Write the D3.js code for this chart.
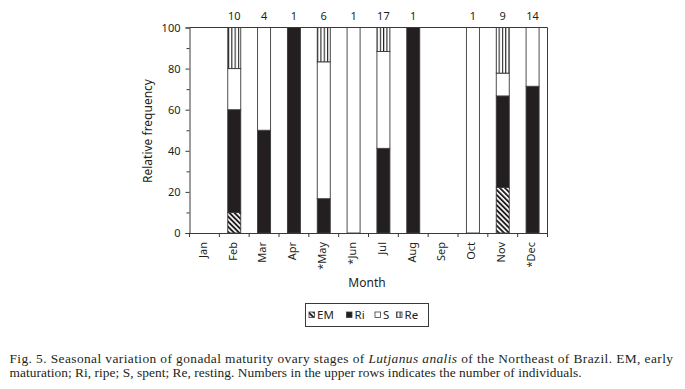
<!DOCTYPE html>
<html>
<head>
<meta charset="utf-8">
<script src="https://cdn.jsdelivr.net/npm/d3@7"></script>
<style>
  body { margin: 0; background: #fff; }
  svg { display: block; }
  text { fill: #231f20; }
  .sans { font-family: "Noto Sans", sans-serif; }
  .caption { font-family: "Liberation Serif", "Times New Roman", serif; font-size: 13.4px; }
</style>
</head>
<body>
<div id="chart"></div>
<script>
const months = ["Jan", "Feb", "Mar", "Apr", "*May", "*Jun", "Jul", "Aug", "Sep", "Oct", "Nov", "*Dec"];
const counts = [null, 10, 4, 1, 6, 1, 17, 1, null, 1, 9, 14];
const emValues = [0, 10, 0, 0, 0, 0, 0, 0, 0, 0, 22.2, 0];
const riValues = [0, 50, 50, 100, 16.7, 0, 41.2, 100, 0, 0, 44.5, 71.4];
const sValues = [0, 20, 50, 0, 66.6, 100, 47.1, 0, 0, 100, 11.1, 28.6];
const reValues = [0, 20, 0, 0, 16.7, 0, 11.7, 0, 0, 0, 22.2, 0];
const stages = ["EM", "Ri", "S", "Re"];
const yTicks = [0, 20, 40, 60, 80, 100];
const yMinor = [10, 30, 50, 70, 90];

const width = 685, height = 389;
const plotLeft = 189.5, plotRight = 547.5, plotTop = 27.5, plotBottom = 233;
const ink = "#231f20";
const line = "#3a3a3a";

const svg = d3.select("#chart").append("svg")
  .attr("width", width).attr("height", height);

const defs = svg.append("defs");
const hatch = defs.append("pattern").attr("id", "hatchEM")
  .attr("patternUnits", "userSpaceOnUse")
  .attr("width", 3.6).attr("height", 3.6)
  .attr("patternTransform", "rotate(-45)");
hatch.append("rect").attr("width", 3.6).attr("height", 3.6).attr("fill", "#fff");
hatch.append("rect").attr("width", 1.9).attr("height", 3.6).attr("fill", ink);

const vstripe = defs.append("pattern").attr("id", "stripeRe")
  .attr("patternUnits", "userSpaceOnUse")
  .attr("x", 0.3)
  .attr("width", 3.3).attr("height", 4);
vstripe.append("rect").attr("width", 3.3).attr("height", 4).attr("fill", "#fff");
vstripe.append("rect").attr("width", 1.1).attr("height", 4).attr("fill", ink);

const fills = { EM: "url(#hatchEM)", Ri: ink, S: "#fff", Re: "url(#stripeRe)" };

const data = months.map((m, i) => ({
  month: m, EM: emValues[i], Ri: riValues[i], S: sValues[i], Re: reValues[i]
}));

const x = d3.scaleBand().domain(months).range([plotLeft, plotRight]).padding(0);
const y = d3.scaleLinear().domain([0, 100]).range([plotBottom, plotTop]);
const barW = 13;

const series = d3.stack().keys(stages)(data);

// bars
const bars = svg.append("g");
series.forEach(s => {
  bars.selectAll(null)
    .data(s.filter(d => d[1] - d[0] > 0))
    .join("rect")
    .attr("x", d => x(d.data.month) + (x.step() - barW) / 2)
    .attr("y", d => y(d[1]))
    .attr("width", barW)
    .attr("height", d => y(d[0]) - y(d[1]))
    .attr("fill", fills[s.key])
    .attr("stroke", line)
    .attr("stroke-width", 0.9);
});

// frame (top and right)
svg.append("path")
  .attr("d", `M${plotLeft},${plotTop}H${plotRight}V${plotBottom}`)
  .attr("fill", "none").attr("stroke", line).attr("stroke-width", 1);

// y axis
svg.append("g")
  .attr("transform", `translate(${plotLeft},0)`)
  .call(d3.axisLeft(y).tickValues(yTicks).tickSize(4).tickPadding(5));
svg.append("g")
  .attr("transform", `translate(${plotLeft},0)`)
  .call(d3.axisLeft(y).tickValues(yMinor).tickSize(3).tickFormat(""))
  .call(g => g.select(".domain").remove());

// x axis: ticks at band boundaries
const xAxis = svg.append("g")
  .attr("transform", `translate(0,${plotBottom})`)
  .call(d3.axisBottom(x).tickSize(0).tickPadding(0));
xAxis.selectAll(".tick text")
  .attr("transform", "rotate(-90)")
  .attr("text-anchor", "end")
  .attr("x", -9)
  .attr("y", -1.5)
  .attr("dy", "0.35em");
const bounds = months.map(m => x(m)).concat([plotRight]);
xAxis.selectAll(".bound").data(bounds).join("line")
  .attr("x1", d => d).attr("x2", d => d)
  .attr("y1", 0).attr("y2", 4)
  .attr("stroke", line);

svg.selectAll(".domain, .tick line").attr("stroke", line);
svg.selectAll(".tick text")
  .attr("class", "sans")
  .attr("font-family", null)
  .attr("font-size", 11)
  .attr("fill", ink);

// counts above bars
svg.append("g").selectAll("text")
  .data(data.map((d, i) => ({ month: d.month, n: counts[i] })).filter(d => d.n !== null))
  .join("text")
  .attr("class", "sans")
  .attr("x", d => x(d.month) + x.step() / 2)
  .attr("y", 20)
  .attr("text-anchor", "middle")
  .attr("font-size", 11)
  .text(d => d.n);

// axis titles
svg.append("text")
  .attr("class", "sans")
  .attr("transform", `translate(152,131) rotate(-90)`)
  .attr("text-anchor", "middle")
  .attr("font-size", 12)
  .text("Relative frequency");
svg.append("text")
  .attr("class", "sans")
  .attr("x", 367).attr("y", 287)
  .attr("text-anchor", "middle")
  .attr("font-size", 12)
  .text("Month");

// legend
const legend = svg.append("g");
legend.append("rect")
  .attr("x", 305.5).attr("y", 303.5).attr("width", 123).attr("height", 23)
  .attr("fill", "#fff").attr("stroke", line);
const legendX = [309, 346.5, 375, 396.5];
stages.forEach((k, i) => {
  legend.append("rect")
    .attr("x", legendX[i]).attr("y", 312)
    .attr("width", 5.5).attr("height", 5.5)
    .attr("fill", fills[k]).attr("stroke", line).attr("stroke-width", 0.8);
  legend.append("text")
    .attr("class", "sans")
    .attr("x", legendX[i] + 8).attr("y", 319)
    .attr("font-size", 11.5)
    .text(k);
});

// caption
const line1 = svg.append("text").attr("class", "caption")
  .attr("x", 9.5).attr("y", 363)
  .attr("textLength", 663.5).attr("lengthAdjust", "spacing");
line1.append("tspan").text("Fig. 5. Seasonal variation of gonadal maturity ovary stages of ");
line1.append("tspan").attr("font-style", "italic").text("Lutjanus analis");
line1.append("tspan").text(" of the Northeast of Brazil. EM, early");
svg.append("text").attr("class", "caption")
  .attr("x", 9.5).attr("y", 377)
  .attr("textLength", 572).attr("lengthAdjust", "spacing")
  .text("maturation; Ri, ripe; S, spent; Re, resting. Numbers in the upper rows indicates the number of individuals.");
</script>
</body>
</html>
